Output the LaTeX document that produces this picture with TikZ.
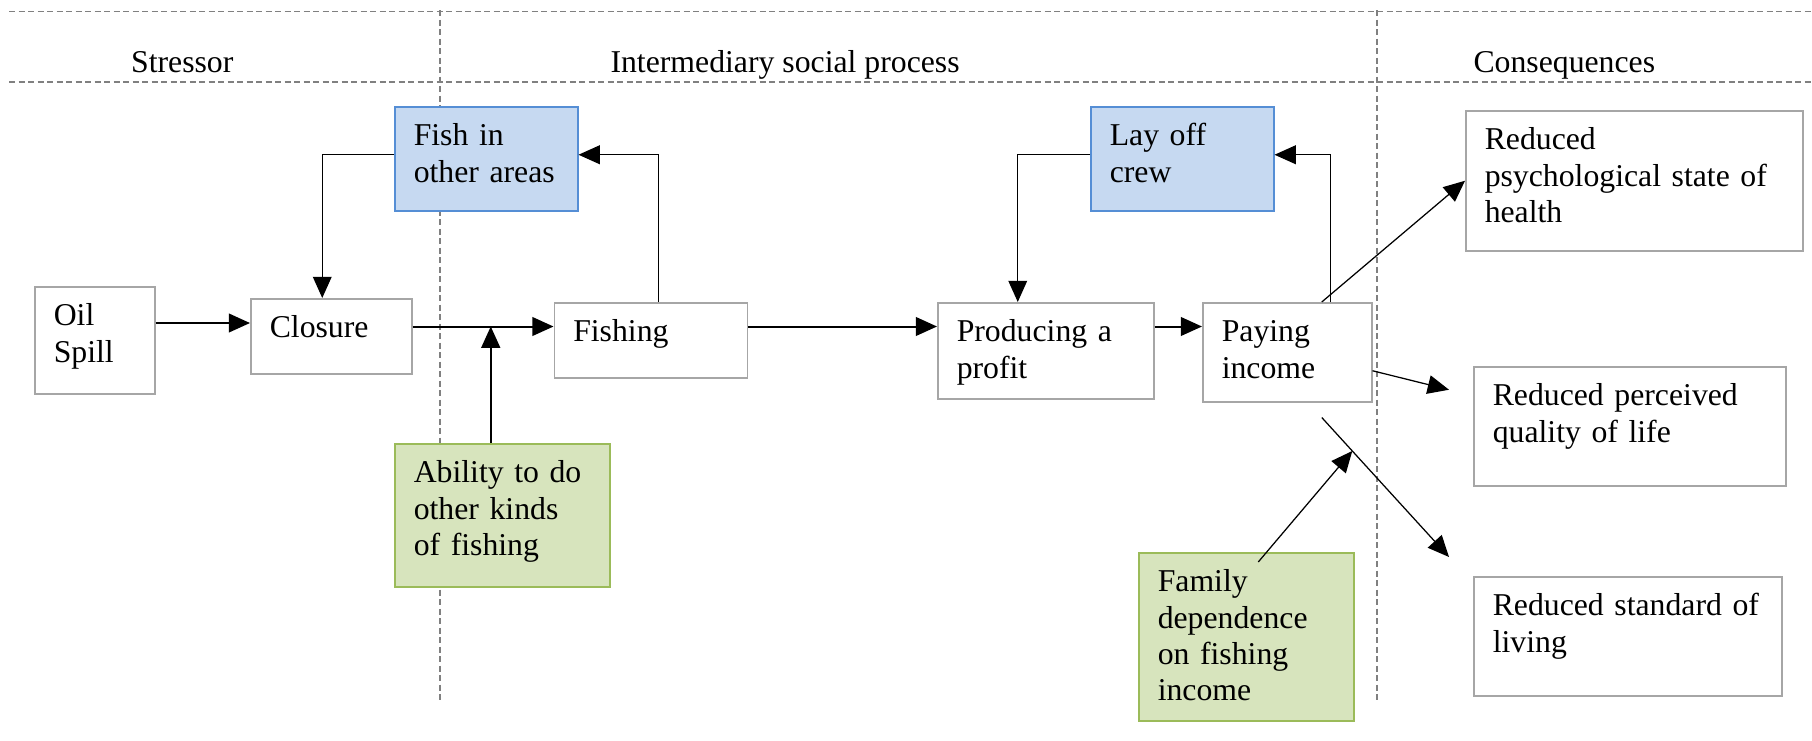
\documentclass[tikz,border=0pt]{standalone}
\usepackage{fontspec}
\setmainfont{Liberation Serif}
\usepackage{tikz}
\usetikzlibrary{
    arrows.meta,
    calc
}

\definecolor{boxgray}{RGB}{166,166,166}
\definecolor{dashgray}{RGB}{128,128,128}
\definecolor{blueFill}{RGB}{198,217,241}
\definecolor{blueLine}{RGB}{85,142,213}
\definecolor{greenFill}{RGB}{215,228,189}
\definecolor{greenLine}{RGB}{155,187,89}

\begin{document}
\begin{tikzpicture}[
            x=0.4pt, y=-0.4pt,
            plain_box/.style={draw=boxgray, fill=white, line width=0.6pt, anchor=north west, align=left, inner xsep=7.6pt, inner ysep=0pt, text height=15.6pt, font=\fontsize{12.7}{14.5}\selectfont},
            response_box/.style={plain_box, draw=blueLine, fill=blueFill},
            factor_box/.style={plain_box, draw=greenLine, fill=greenFill},
            stage_head/.style={anchor=base west, inner sep=0pt, font=\fontsize{12.7}{14.5}\selectfont},
            divider_line/.style={dashgray, line width=0.55pt, dash pattern=on 2.4pt off 1.4pt},
            main_flow_arrow/.style={-{Triangle[length=8.5pt, width=7.5pt]}, line width=0.8pt, black},
            thin_flow_arrow/.style={-{Triangle[length=8.5pt, width=7.5pt]}, line width=0.5pt, black}
        ]
        \useasboundingbox (0,0) rectangle (1812,740);

        % stage dividers
        \draw[divider_line] (9,11.5) -- (1812,11.5);
        \draw[divider_line] (9,82) -- (1812,82);
        \draw[divider_line] (440,10) -- (440,703);
        \draw[divider_line] (1377,10) -- (1377,703);

        \node[stage_head] (stressor_head) at (130.6,72.7) {Stressor};
        \node[stage_head] (process_head) at (610,72.7) {Intermediary social process};
        \node[stage_head] (consequence_head) at (1473,72.7) {Consequences};

        \node[plain_box, text width=32.8pt, text depth=27.2pt] (oil_spill) at (34,286) {Oil\\Spill};
        \node[plain_box, text width=49.2pt, text depth=14.4pt] (closure) at (250,298) {Closure};
        \node[response_box, text width=58pt, text depth=26pt] (fish_other) at (394,106) {Fish in\\other areas};
        \node[plain_box, text width=62pt, text depth=14.4pt] (fishing) at (553.5,302) {Fishing};
        \node[factor_box, text width=70.8pt, text depth=41.6pt] (ability) at (394,443) {Ability to do\\other kinds\\of fishing};
        \node[plain_box, text width=71.2pt, text depth=22.8pt] (producing) at (937,302) {Producing a\\profit};
        \node[plain_box, text width=52.4pt, text depth=24pt] (paying) at (1202,302) {Paying\\income};
        \node[response_box, text width=58pt, text depth=26pt] (lay_off) at (1090,106) {Lay off\\crew};
        \node[factor_box, text width=70.8pt, text depth=51.6pt] (family) at (1138,552) {Family\\dependence\\on fishing\\income};
        \node[plain_box, text width=119.6pt, text depth=40.4pt] (psych_health) at (1465,110) {Reduced\\psychological state of\\health};
        \node[plain_box, text width=109.6pt, text depth=32pt] (quality_life) at (1473,366) {Reduced perceived\\quality of life};
        \node[plain_box, text width=108pt, text depth=32pt] (standard_living) at (1473,576) {Reduced standard of\\living};

        \draw[main_flow_arrow] ([yshift=6.9pt]oil_spill.east) -- ([yshift=6.9pt]oil_spill.east -| closure.west);
        \draw[main_flow_arrow] ([yshift=3.9pt]closure.east) coordinate (closure_out) -- (closure_out -| fishing.west);
        \draw[main_flow_arrow] ([xshift=-4.6pt]ability.north) -- ([xshift=-4.6pt]ability.north |- closure_out);
        \draw[thin_flow_arrow] ([xshift=3pt]fishing.north) |- ([yshift=1.6pt]fish_other.east);
        \draw[thin_flow_arrow] ([yshift=1.6pt]fish_other.west) -| ([xshift=-3.6pt]closure.north);

        \draw[main_flow_arrow] ([yshift=5.5pt]fishing.east) coordinate (fishing_out) -- (fishing_out -| producing.west);
        \draw[main_flow_arrow] (fishing_out -| producing.east) -- (fishing_out -| paying.west);
        \draw[thin_flow_arrow] ([yshift=1.6pt]lay_off.west) -| ([xshift=-11.2pt]producing.north);
        \draw[thin_flow_arrow] ([xshift=17.2pt]paying.north) |- ([yshift=1.6pt]lay_off.east);

        \draw[thin_flow_arrow] ([xshift=13.8pt]paying.north) -- (psych_health.west);
        \draw[thin_flow_arrow] ([yshift=-7.4pt]paying.east) -- ([shift={(-9.6pt,14.6pt)}]quality_life.west);
        \draw[thin_flow_arrow] ([shift={(13.8pt,-6pt)}]paying.south) coordinate (living_from) -- ([shift={(-9.6pt,7.6pt)}]standard_living.north west) coordinate (living_to);
        \draw[thin_flow_arrow] ([shift={(4.8pt,-4pt)}]family.north) -- ($(living_from)!0.24!(living_to)$);

        \end{tikzpicture}
\end{document}
